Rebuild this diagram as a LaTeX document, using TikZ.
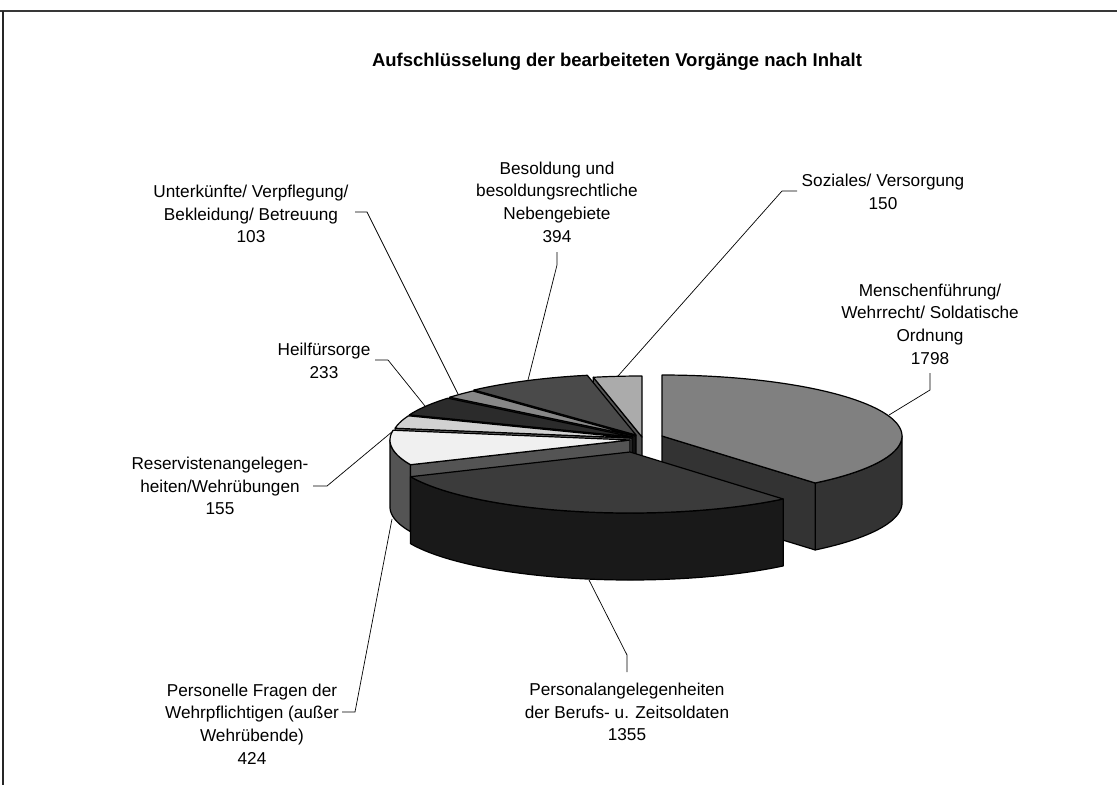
\documentclass[tikz,border=0pt]{standalone}
\usepackage{fontspec}
\setmainfont{Liberation Sans}
\def\pieRX{240}
\def\pieRY{61}
\def\pieDP{67}
\newcommand{\pTop}[5]{\filldraw[pie,fill=#5] (#1,#2) -- plot[domain=#3:#4,samples=80] ({#1+\pieRX*cos(\x)},{#2-\pieRY*sin(\x)}) -- cycle;}
\newcommand{\pSide}[5]{\filldraw[pie,fill=#5] plot[domain=#3:#4,samples=80] ({#1+\pieRX*cos(\x)},{#2-\pieRY*sin(\x)}) -- plot[domain=#4:#3,samples=80] ({#1+\pieRX*cos(\x)},{#2-\pieRY*sin(\x)+\pieDP}) -- cycle;}
\newcommand{\pCut}[4]{\filldraw[pie,fill=#4] (#1,#2) -- ({#1+\pieRX*cos(#3)},{#2-\pieRY*sin(#3)}) -- ({#1+\pieRX*cos(#3)},{#2-\pieRY*sin(#3)+\pieDP}) -- (#1,{#2+\pieDP}) -- cycle;}
\begin{document}
\begin{tikzpicture}[x=1pt,y=-1pt,
  pie/.style={draw=black,line width=1.2pt,line join=round},
  lab/.style={align=center,inner sep=0pt,font=\fontsize{17.2}{22.6}\selectfont},
  leader/.style={draw=black,line width=0.7pt}]
\useasboundingbox (0,0) rectangle (1117,785);
% frame
\draw[line width=1.4pt,color=black!78] (0,11) -- (1117,11);
\draw[line width=1.1pt,color=black!85] (3,11) -- (3,785);
% title
\node[inner sep=0pt,font=\fontsize{18.5}{22}\selectfont\bfseries] (title) at (617,62) {Aufschlüsselung der bearbeiteten Vorgänge nach Inhalt};
% back slices
\pCut{642}{437}{101.707}{black!67}
\pTop{642}{437}{90}{101.707}{black!33}
\pCut{636}{435}{132.462}{black!90}
\pTop{636}{435}{101.707}{132.462}{black!71}
\pCut{635}{436}{140.502}{black!80}
\pTop{635}{436}{132.462}{140.502}{black!47}
\pCut{633}{437}{158.690}{black!93}
\pTop{633}{437}{140.502}{158.690}{black!83}
\pCut{632}{438}{170.789}{black!60}
\pTop{632}{438}{158.690}{170.789}{black!18}
% Personelle Fragen
\pSide{630}{440}{180}{203.886}{black!67}
\pCut{630}{440}{203.886}{black!67}
\pTop{630}{440}{170.789}{203.886}{black!6}
% Menschenfuehrung
\pSide{662}{436}{-50.347}{0}{black!80}
\pCut{662}{436}{-50.347}{black!80}
\pTop{662}{436}{-50.347}{90}{black!50}
% Personalangelegenheiten
\pSide{630}{452}{-156.114}{-50.347}{black!90}
\pTop{630}{452}{-156.114}{-50.347}{black!77}
% labels
\node[lab] (soz) at (883,192) {Soziales/ Versorgung\\150};
\node[lab] (men) at (930,324) {Menschenführung/\\Wehrrecht/ Soldatische\\Ordnung\\1798};
\node[lab] (bes) at (557,202) {Besoldung und\\besoldungsrechtliche\\Nebengebiete\\394};
\node[lab] (unt) at (251,214) {Unterkünfte/ Verpflegung/\\Bekleidung/ Betreuung\\103};
\node[lab] (hei) at (324,361) {Heilfürsorge\\233};
\node[lab] (res) at (220,486) {Reservistenangelegen-\\heiten/Wehrübungen\\155};
\node[lab] (pfr) at (252,724) {Personelle Fragen der\\Wehrpflichtigen (außer\\Wehrübende)\\424};
\node[lab] (pal) at (627,712) {Personalangelegenheiten\\der Berufs- u. Zeitsoldaten\\1355};
% leader coordinates
\coordinate (soz1) at (797,191); \coordinate (soz2) at (782,191); \coordinate (soz3) at (618,376);
\coordinate (men1) at (930,373); \coordinate (men2) at (930,390); \coordinate (men3) at (889,415);
\coordinate (bes1) at (557,252); \coordinate (bes2) at (557,265); \coordinate (bes3) at (528,380);
\coordinate (unt1) at (355,212); \coordinate (unt2) at (367,212); \coordinate (unt3) at (458,394);
\coordinate (hei1) at (375,360); \coordinate (hei2) at (388,360); \coordinate (hei3) at (425,406);
\coordinate (res1) at (313,486); \coordinate (res2) at (327,486); \coordinate (res3) at (393,431);
\coordinate (pfr1) at (342,712); \coordinate (pfr2) at (355,712); \coordinate (pfr3) at (392,519);
\coordinate (pal1) at (627,672); \coordinate (pal2) at (627,655); \coordinate (pal3) at (589,580);
\draw[leader] (soz1) -- (soz2) -- (soz3);
\draw[leader] (men1) -- (men2) -- (men3);
\draw[leader] (bes1) -- (bes2) -- (bes3);
\draw[leader] (unt1) -- (unt2) -- (unt3);
\draw[leader] (hei1) -- (hei2) -- (hei3);
\draw[leader] (res1) -- (res2) -- (res3);
\draw[leader] (pfr1) -- (pfr2) -- (pfr3);
\draw[leader] (pal1) -- (pal2) -- (pal3);
\end{tikzpicture}
\end{document}
